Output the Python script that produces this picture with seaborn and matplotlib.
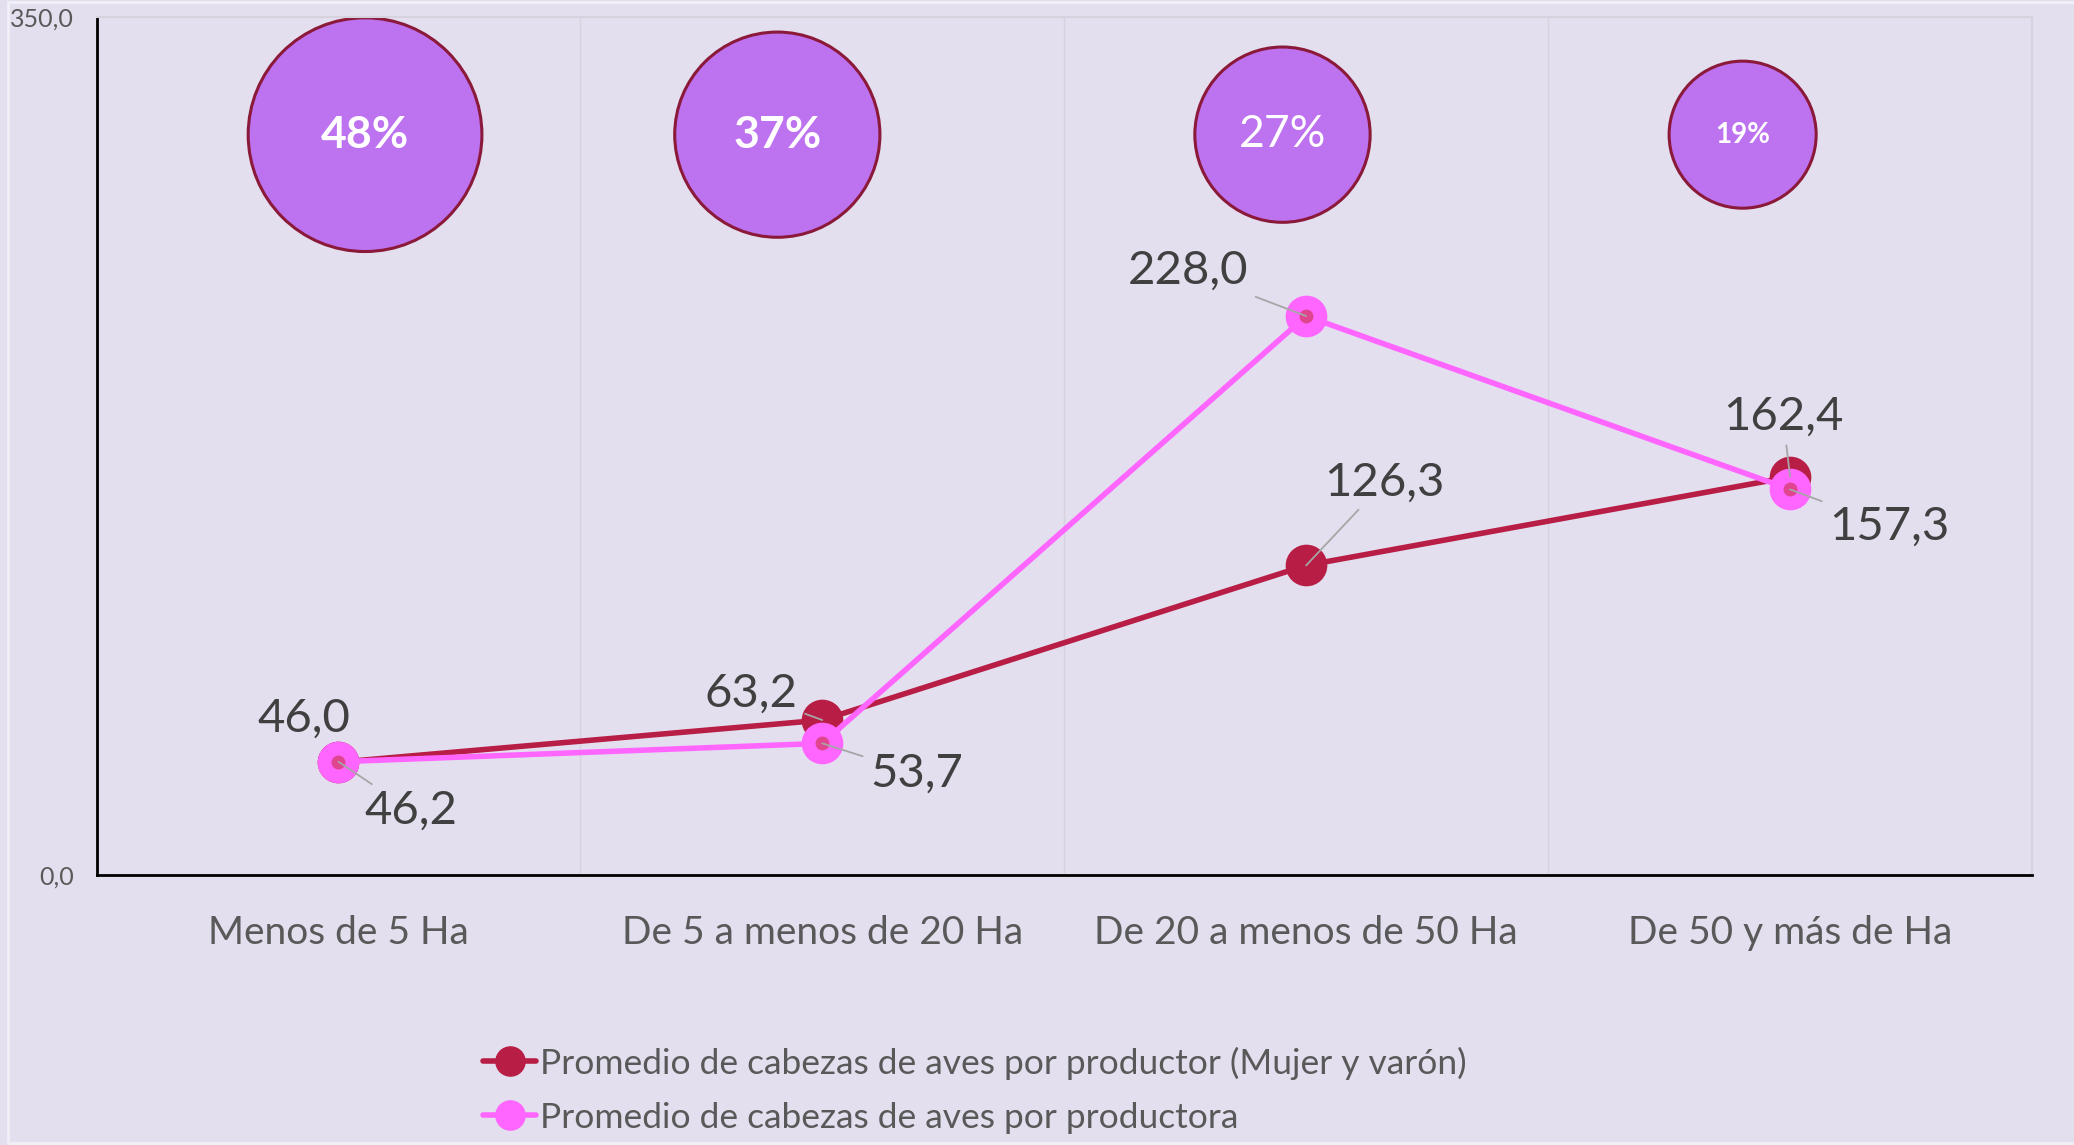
import numpy as np
import pandas as pd
import matplotlib
matplotlib.use('Agg')
import matplotlib.pyplot as plt
from matplotlib.lines import Line2D
from matplotlib.patches import Rectangle
import seaborn as sns

# Data
categories = ['Menos de 5 Ha', 'De 5 a menos de 20 Ha', 'De 20 a menos de 50 Ha', 'De 50 y más de Ha']
total_avg = [46.0, 63.2, 126.3, 162.4]
women_avg = [46.2, 53.7, 228.0, 157.3]
share_women = [48, 37, 27, 19]
series_names = ['Promedio de cabezas de aves por productor (Mujer y varón)',
                'Promedio de cabezas de aves por productora']

# Styling
bg = '#E3DFEE'
red = '#B81D45'
pink = '#FF66FF'
bubble_fill = '#BD72EF'
bubble_edge = '#8B1A3A'
label_col = '#404040'
axis_text = '#595959'

sns.set_theme(style='white')
plt.rcParams['font.family'] = ['Lato', 'DejaVu Sans']

df = pd.DataFrame({
    'x': list(range(len(categories))) * 2,
    'value': total_avg + women_avg,
    'serie': [series_names[0]] * 4 + [series_names[1]] * 4,
})

fig = plt.figure(figsize=(20.74, 11.45), dpi=100, facecolor=bg)
ax = fig.add_axes([96.5 / 2074, 270 / 1145, (2032 - 96.5) / 2074, (1128 - 270) / 1145])
ax.set_facecolor(bg)

# lines
sns.lineplot(data=df[df.serie == series_names[0]], x='x', y='value', color=red, lw=4,
             marker='o', markersize=30, markeredgewidth=0, ax=ax, zorder=3, legend=False)
sns.lineplot(data=df[df.serie == series_names[1]], x='x', y='value', color=pink, lw=4,
             marker='o', markersize=30, markeredgewidth=0, ax=ax, zorder=4, legend=False)
ax.plot(range(4), women_avg, 'o', color='#E0458F', markersize=9, zorder=5)

# bubbles with share of women
bubble_offset = [0.055, -0.093, -0.049, -0.098]
bubble_level = 302
bx = [i + o for i, o in enumerate(bubble_offset)]
ax.scatter(bx, [bubble_level] * 4, s=[p * 590 for p in share_women], color=bubble_fill,
           edgecolor=bubble_edge, linewidth=2.2, zorder=2, clip_on=False)
b_sizes = [32, 32, 32, 20]
b_weights = ['bold', 'bold', 'normal', 'bold']
for x, p, fs, fw in zip(bx, share_women, b_sizes, b_weights):
    ax.text(x, bubble_level, f'{p}%', color='white', fontsize=fs, fontweight=fw,
            ha='center', va='center', zorder=6)

# data labels (offsets in pixels)
def fmt(v):
    return f'{v:.1f}'.replace('.', ',')

total_off = [(-35, 44, False), (-71, 26, True), (78, 83, True), (-7, 60, True)]
women_off = [(73, -49, True), (94, -30, True), (-118, 45, True), (99, -37, True)]
for vals, offs in ((total_avg, total_off), (women_avg, women_off)):
    for i, (v, (dx, dy, leader)) in enumerate(zip(vals, offs)):
        arrow = dict(arrowstyle='-', color='#A6A6A6', lw=1.3, shrinkA=3, shrinkB=0) if leader else None
        ax.annotate(fmt(v), xy=(i, v), xytext=(dx, dy), textcoords='offset pixels',
                    ha='center', va='center', fontsize=34, color=label_col,
                    arrowprops=arrow, zorder=7)

# axes
ax.set_xlim(-0.5, 3.5)
ax.set_ylim(0, 350)
ax.set_xticks(range(4))
ax.set_xticklabels(categories, fontsize=28, color=axis_text)
ax.set_xticks([0.5, 1.5, 2.5], minor=True)
ax.set_yticks([0, 350])
ax.set_yticklabels(['0,0', '350,0'], fontsize=18, color=axis_text)
ax.tick_params(axis='x', which='both', length=0, pad=29)
ax.tick_params(axis='y', length=0, pad=16)
ax.grid(False)
ax.grid(which='minor', axis='x', color='#D6D3DE', lw=1)
ax.set_xlabel('')
ax.set_ylabel('')
for s in ('top', 'right'):
    ax.spines[s].set_color('#D6D3DE')
    ax.spines[s].set_linewidth(1.5)
for s in ('left', 'bottom'):
    ax.spines[s].set_color('black')
    ax.spines[s].set_linewidth(2)

# legend
handles = [Line2D([0], [0], color=red, lw=4, marker='o', markersize=21),
           Line2D([0], [0], color=pink, lw=4, marker='o', markersize=21)]
fig.legend(handles, series_names, loc='center left', bbox_to_anchor=(483 / 2074, 0.048),
           frameon=False, fontsize=25.5, labelcolor=axis_text, handlelength=1.5,
           handletextpad=0.1, labelspacing=0.62, borderpad=0, borderaxespad=0)

# outer frame
fig.patches.append(Rectangle((8 / 2074, 2 / 1145), 1.2, 1 - 4 / 1145, transform=fig.transFigure,
                             fill=False, edgecolor='#F1EFF6', lw=2))

fig.savefig('out.png', dpi=100, facecolor=bg)
